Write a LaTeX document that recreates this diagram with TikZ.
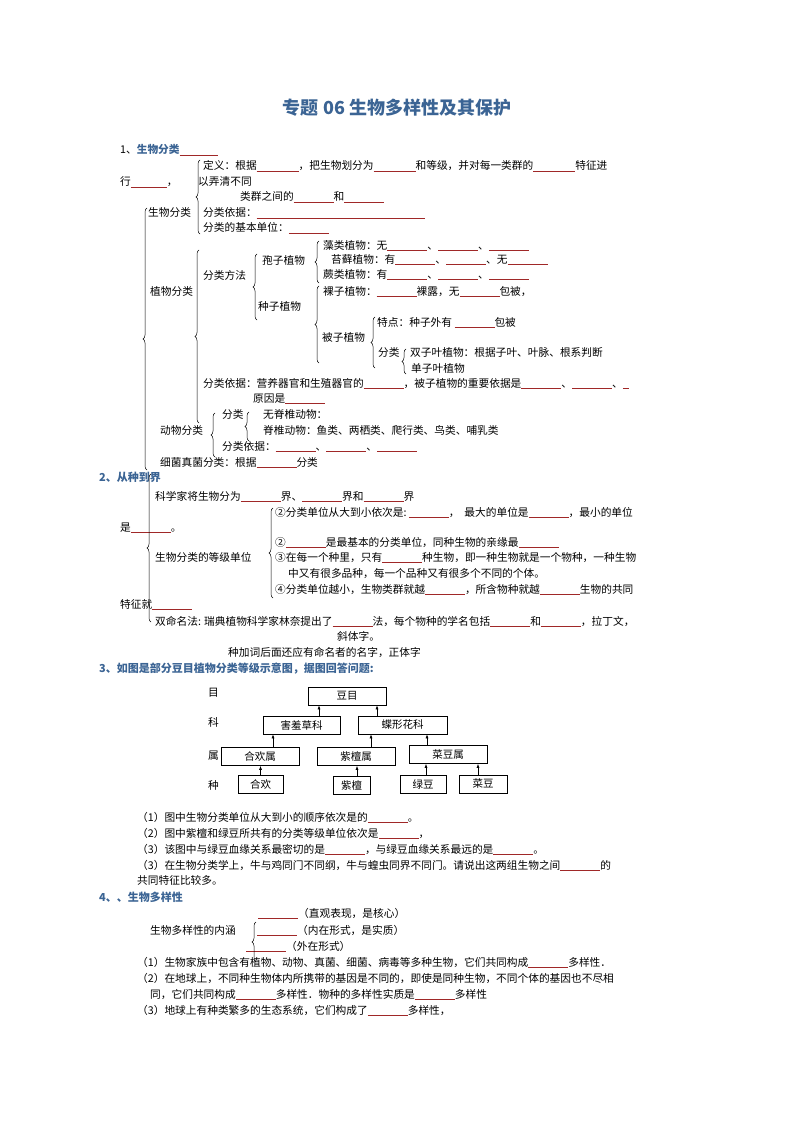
\documentclass[tikz,border=0pt]{standalone}
\usepackage{fontspec}
\setmainfont{Noto Sans CJK SC}
\usetikzlibrary{decorations.pathreplacing,arrows.meta}
\definecolor{ttl}{HTML}{3B6494}
\definecolor{blk}{HTML}{A02828}
\newcommand\bl[1]{\textcolor{blk}{\rule[-1.5pt]{#1pt}{0.7pt}}}
\tikzset{
 tx/.style={anchor=base west,inner sep=0,font=\fontsize{10.7pt}{12pt}\selectfont},
 hd/.style={anchor=base west,inner sep=0,font=\fontsize{11pt}{12pt}\selectfont\bfseries,text=ttl},
 brc/.style={decorate,decoration={brace,amplitude=4pt},line width=0.5pt},
 bx/.style={draw,line width=0.6pt,minimum height=18pt,inner sep=0,font=\fontsize{10.5pt}{12pt}\selectfont},
 arr/.style={-{Latex[length=4pt,width=3pt]},line width=0.6pt}
}
\begin{document}
\begin{tikzpicture}[x=1pt,y=-1pt]
\useasboundingbox[fill=white] (0,0) rectangle (794,1123);
\node[inner sep=0,font=\fontsize{18pt}{20pt}\selectfont\bfseries,text=ttl] (title) at (397,108) {专题 06\ 生物多样性及其保护};
% section 1
\node[tx] (s1) at (120,154) {1、\textcolor{ttl}{\bfseries 生物分类}\bl{38}};
\node[tx] (a1) at (203,170) {定义：根据\bl{42}，把生物划分为\bl{42}和等级，并对每一类群的\bl{42}特征进};
\node[tx] (a2) at (120,186) {行\bl{36}，};
\node[tx] (a3) at (198,186) {以弄清不同};
\node[tx] (a4) at (240,201) {类群之间的\bl{40}和\bl{40}};
\node[tx] (a5) at (148,217) {生物分类};
\node[tx] (a6) at (203,217) {分类依据：\bl{168}};
\node[tx] (a7) at (203,232) {分类的基本单位：\bl{40}};
\draw[brc] (200,234) -- (200,160);
\node[tx] (b1) at (323,249) {藻类植物：无\bl{40}、\bl{40}、\bl{40}};
\node[tx] (b2) at (331,263) {苔藓植物：有\bl{40}、\bl{40}、无\bl{40}};
\node[tx] (b3) at (323,278) {蕨类植物：有\bl{40}、\bl{40}、\bl{40}};
\node[tx] (b4) at (323,295) {裸子植物：\bl{40}裸露，无\bl{40}包被，};
\draw[brc] (319,283) -- (319,241);
\node[tx] (b5) at (262,264) {孢子植物};
\node[tx] (b6) at (203,279) {分类方法};
\draw[brc] (257,320) -- (257,254);
\node[tx] (b7) at (258,310) {种子植物};
\draw[brc] (319,363) -- (319,286);
\node[tx] (b8) at (322,341) {被子植物};
\node[tx] (b9) at (377,326) {特点：种子外有 \bl{40}包被};
\draw[brc] (375,368) -- (375,317);
\node[tx] (b10) at (378,356) {分类};
\draw[brc] (406,374) -- (406,349);
\node[tx] (b11) at (410,356) {双子叶植物：根据子叶、叶脉、根系判断};
\node[tx] (b12) at (411,372) {单子叶植物};
\node[tx] (b13) at (150,295) {植物分类};
\draw[brc] (199,423) -- (199,250);
\node[tx] (b14) at (203,387) {分类依据：营养器官和生殖器官的\bl{40}，被子植物的重要依据是\bl{40}、\bl{40}、\bl{6}};
\node[tx] (b15) at (253,402) {原因是\bl{40}};
\node[tx] (c1) at (222,418) {分类};
\node[tx] (c2) at (263,418) {无脊椎动物：};
\node[tx] (c3) at (263,434) {脊椎动物：鱼类、两栖类、爬行类、鸟类、哺乳类};
\draw[brc] (249,441) -- (249,412);
\node[tx] (c4) at (160,434) {动物分类};
\draw[brc] (215,457) -- (215,413);
\node[tx] (c5) at (222,450) {分类依据：\bl{40}、\bl{40}、\bl{40}};
\node[tx] (c6) at (160,466) {细菌真菌分类：根据\bl{40}分类};
\draw[brc] (147,470) -- (147,208);
% section 2
\node[hd] (s2) at (99,481) {2、从种到界};
\node[tx] (d1) at (155,500) {科学家将生物分为\bl{40}界、\bl{40}界和\bl{40}界};
\node[tx] (d2) at (120,531) {是\bl{40}。};
\node[tx] (d3) at (155,561) {生物分类的等级单位};
\draw[brc] (273,598) -- (273,508);
\node[tx] (d4) at (275,516) {②分类单位从大到小依次是:\ \bl{40}，\ \ 最大的单位是\bl{40}，最小的单位};
\node[tx] (d5) at (275,546) {②\bl{40}是最基本的分类单位，同种生物的亲缘最\bl{40}};
\node[tx] (d6) at (275,561) {③在每一个种里，只有\bl{40}种生物，即一种生物就是一个物种，一种生物};
\node[tx] (d7) at (288,577) {中又有很多品种，每一个品种又有很多个不同的个体。};
\node[tx] (d8) at (275,593) {④分类单位越小，生物类群就越\bl{40}，所含物种就越\bl{40}生物的共同};
\node[tx] (d9) at (120,608) {特征就\bl{40}};
\node[tx] (d10) at (155,625) {双命名法: 瑞典植物科学家林奈提出了\bl{40}法，每个物种的学名包括\bl{40}和\bl{40}，拉丁文，};
\node[tx] (d11) at (337,640) {斜体字。};
\node[tx] (d12) at (228,656) {种加词后面还应有命名者的名字，正体字};
\draw[brc] (151,622) -- (151,474);
% section 3
\node[hd] (s3) at (99,672) {3、如图是部分豆目植物分类等级示意图，据图回答问题:};
\node[tx] (l1) at (208,696) {目};
\node[tx] (l2) at (208,726) {科};
\node[tx] (l3) at (208,759) {属};
\node[tx] (l4) at (208,789) {种};
\node[bx,minimum width=78pt] (dm) at (347,696) {豆目};
\node[bx,minimum width=77pt] (hx) at (301.5,725) {害羞草科};
\node[bx,minimum width=89pt] (dx) at (402.5,725) {蝶形花科};
\node[bx,minimum width=78pt] (hhs) at (260,756.5) {合欢属};
\node[bx,minimum width=78pt] (zts) at (356,756.5) {紫檀属};
\node[bx,minimum width=78pt] (cds) at (448,754.5) {菜豆属};
\node[bx,minimum width=45pt] (hh) at (260.5,784) {合欢};
\node[bx,minimum width=37pt] (zt) at (351.5,785.5) {紫檀};
\node[bx,minimum width=46pt] (ld) at (423,784) {绿豆};
\node[bx,minimum width=48pt] (cd) at (483,784) {菜豆};
\draw[arr] (hh.north) -- (hh.north |- hhs.south);
\draw[arr] ([xshift=5.5pt]zt.north) -- ([xshift=5.5pt]zt.north |- zts.south);
\draw[arr] ([xshift=3pt]ld.north) -- ([xshift=3pt]ld.north |- cds.south);
\draw[arr] ([xshift=-5pt]cd.north) -- ([xshift=-5pt]cd.north |- cds.south);
\draw[arr] ([xshift=13pt]hhs.north) -- ([xshift=13pt]hhs.north |- hx.south);
\draw[arr] ([xshift=15pt]zts.north) -- ([xshift=15pt]zts.north |- dx.south);
\draw[arr] ([xshift=-21pt]cds.north) -- ([xshift=-21pt]cds.north |- dx.south);
\draw[arr] ([xshift=17.5pt]hx.north) -- ([xshift=17.5pt]hx.north |- dm.south);
\draw[arr] ([xshift=-25.5pt]dx.north) -- ([xshift=-25.5pt]dx.north |- dm.south);
\node[tx] (q1) at (137,821) {（1）图中生物分类单位从大到小的顺序依次是的\bl{40}。};
\node[tx] (q2) at (137,837) {（2）图中紫檀和绿豆所共有的分类等级单位依次是\bl{40}，};
\node[tx] (q3) at (137,853) {（3）该图中与绿豆血缘关系最密切的是\bl{40}，与绿豆血缘关系最远的是\bl{40}。};
\node[tx] (q4) at (137,869) {（3）在生物分类学上，牛与鸡同门不同纲，牛与蝗虫同界不同门。请说出这两组生物之间\bl{40}的};
\node[tx] (q5) at (137,884) {共同特征比较多。};
% section 4
\node[hd] (s4) at (99,901) {4、、生物多样性};
\node[tx] (e1) at (258,917) {\bl{40}（直观表现，是核心）};
\node[tx] (e2) at (150,934) {生物多样性的内涵};
\node[tx] (e3) at (257,934) {\bl{40}（内在形式，是实质）};
\node[tx] (e4) at (246,950) {\bl{40}（外在形式）};
\draw[brc] (256,962) -- (256,922);
\node[tx] (e5) at (137,966) {（1）生物家族中包含有植物、动物、真菌、细菌、病毒等多种生物，它们共同构成\bl{40}多样性．};
\node[tx] (e6) at (137,982) {（2）在地球上，不同种生物体内所携带的基因是不同的，即使是同种生物，不同个体的基因也不尽相};
\node[tx] (e7) at (150,998) {同，它们共同构成\bl{40}多样性．物种的多样性实质是\bl{40}多样性};
\node[tx] (e8) at (137,1014) {（3）地球上有种类繁多的生态系统，它们构成了\bl{40}多样性，};
\end{tikzpicture}
\end{document}
